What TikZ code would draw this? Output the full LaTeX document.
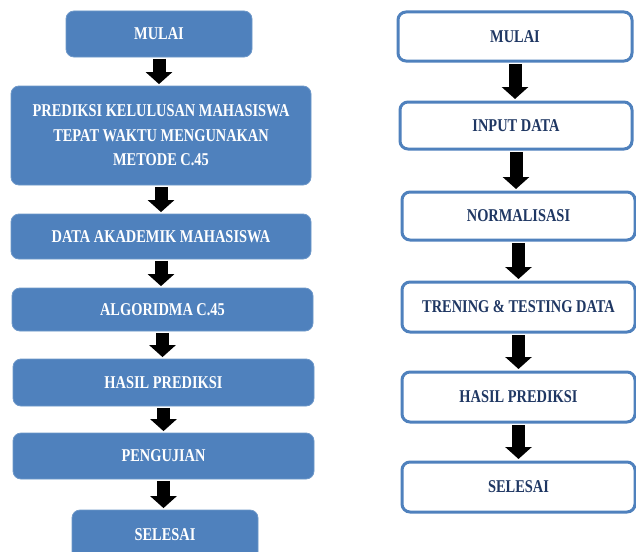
\documentclass[tikz,border=0pt]{standalone}
\usepackage{fontspec}
\setmainfont{Liberation Serif}[FakeStretch=0.8]
\usepackage{tikz}
\usetikzlibrary{arrows.meta, positioning}
\definecolor{boxblue}{HTML}{4F81BD}
\definecolor{lineblue}{HTML}{4A7EBB}
\definecolor{txtblue}{HTML}{1F3763}
\tikzstyle{solid box} = [rectangle, rounded corners=8pt, fill=boxblue, draw=lineblue!80!white, line width=0.8pt, text=white, font=\fontsize{18}{24.5}\selectfont\bfseries, align=center, inner sep=0pt]
\tikzstyle{line box} = [rectangle, rounded corners=8pt, fill=white, draw=boxblue, line width=3pt, text=txtblue, font=\fontsize{18}{24.5}\selectfont\bfseries, align=center, inner sep=0pt]
\tikzstyle{arrow} = [line width=13pt, -{Triangle[length=12pt, width=26pt]}, shorten <=1.5pt, shorten >=1.5pt]

\begin{document}
\begin{tikzpicture}[x=1pt, y=-1pt]
    \clip (0,0) rectangle (636,551);
    \fill[white] (0,0) rectangle (636,551);
    % left flow
    \node[solid box, minimum width=186pt, minimum height=46pt] (lmulai) at (159,34) {MULAI};
    \node[solid box, minimum width=300pt, minimum height=99pt] (ljudul) at (161,135.5)
      {PREDIKSI KELULUSAN MAHASISWA\\TEPAT WAKTU MENGUNAKAN\\METODE C.45};
    \node[solid box, minimum width=300pt, minimum height=45pt] (ldata) at (161,236.5) {DATA AKADEMIK MAHASISWA};
    \node[solid box, minimum width=301pt, minimum height=43pt] (lalgo) at (162.5,309.5) {ALGORIDMA C.45};
    \node[solid box, minimum width=301pt, minimum height=47pt] (lhasil) at (163.5,382.5) {HASIL PREDIKSI};
    \node[solid box, minimum width=301pt, minimum height=46pt] (luji) at (163.5,456) {PENGUJIAN};
    \node[solid box, minimum width=186pt, minimum height=50pt] (lselesai) at (165,535) {SELESAI};
    \foreach \a/\b in {lmulai/ljudul, ljudul/ldata, ldata/lalgo, lalgo/lhasil, lhasil/luji, luji/lselesai}
      \draw[arrow] (\a.south) -- (\a.south |- \b.north);
    % right flow
    \node[line box, minimum width=234pt, minimum height=49pt] (rmulai) at (515,36.5) {MULAI};
    \node[line box, minimum width=232pt, minimum height=47pt] (rinput) at (516,125.5) {INPUT DATA};
    \node[line box, minimum width=233pt, minimum height=48pt] (rnorm) at (518.5,216) {NORMALISASI};
    \node[line box, minimum width=233pt, minimum height=50pt] (rtrain) at (518.5,307) {TRENING \& TESTING DATA};
    \node[line box, minimum width=233pt, minimum height=50pt] (rhasil) at (518.5,397) {HASIL PREDIKSI};
    \node[line box, minimum width=233pt, minimum height=50pt] (rselesai) at (518.5,487) {SELESAI};
    \foreach \a/\b in {rmulai/rinput, rinput/rnorm, rnorm/rtrain, rtrain/rhasil, rhasil/rselesai}
      \draw[arrow] (\a.south) -- (\a.south |- \b.north);
\end{tikzpicture}
\end{document}
